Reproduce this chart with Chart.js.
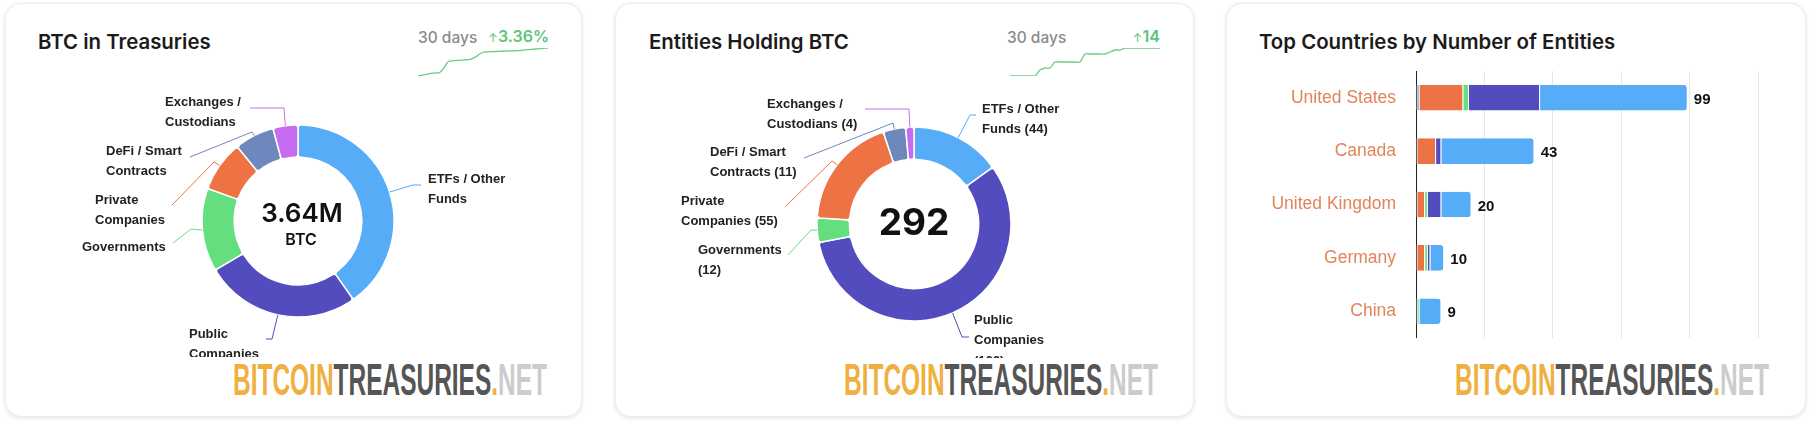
<!DOCTYPE html>
<html lang="en">
<head>
  <meta charset="utf-8">
  <title>Bitcoin Treasuries</title>
  <script src="https://cdn.jsdelivr.net/npm/chart.js@4"></script>
  <style>
    * { box-sizing:border-box; margin:0; padding:0 }
    html, body { width:1810px; height:423px; overflow:hidden; background:#fff; }
    body { position:relative; font-family:'Inter', sans-serif; color:#1b1b1b; }
    .card {
      position:absolute; top:3px; height:414px;
      background:#fff; border:1px solid #eeeeee; border-radius:16px;
      box-shadow:0 1px 4px rgba(0,0,0,0.12);
    }
    .title { position:absolute; top:30px; font-size:20.4px; font-weight:600; line-height:24px; white-space:nowrap; }
    .days { position:absolute; top:28px; font-size:15.5px; font-weight:500; color:#8a8a8a; line-height:20px; }
    .delta { position:absolute; top:26px; font-size:16px; font-weight:600; color:#5cc47a; line-height:20px; text-align:right; white-space:nowrap; }
    .delta span { font-size:12px; font-weight:400; }
    canvas { position:absolute; display:block; }
    svg.logo { position:absolute; top:358px; }
    svg.logo text { font-family:'Liberation Sans Narrow','Liberation Sans',sans-serif; font-weight:700; font-size:45px; }
  </style>
</head>
<body>
  <div class="card" style="left:5px;width:577px"></div>
  <div class="card" style="left:615px;width:579px"></div>
  <div class="card" style="left:1226px;width:580px"></div>

  <div class="title" style="left:38px">BTC in Treasuries</div>
  <div class="title" style="left:649px">Entities Holding BTC</div>
  <div class="title" style="left:1259px">Top Countries by Number of Entities</div>

  <div class="days" style="left:418px">30 days</div>
  <div class="delta" style="right:1261px"><span>↑</span>3.36%</div>
  <div class="days" style="left:1007px">30 days</div>
  <div class="delta" style="right:650px"><span>↑</span>14</div>

  <canvas id="spark1" style="left:416px;top:46px"></canvas>
  <canvas id="spark2" style="left:1008px;top:46px"></canvas>
  <canvas id="donut1" style="left:18px;top:85px"></canvas>
  <canvas id="donut2" style="left:634px;top:90px"></canvas>
  <canvas id="bars" style="left:1238px;top:71px"></canvas>

  <svg class="logo" style="left:233px" width="320" height="44"><text x="0" y="37" textLength="314" lengthAdjust="spacingAndGlyphs"><tspan fill="#efb041">BITCOIN</tspan><tspan fill="#555555">TREASURIES</tspan><tspan fill="#efb041">.</tspan><tspan fill="#cccccc">NET</tspan></text></svg>
  <svg class="logo" style="left:844px" width="320" height="44"><text x="0" y="37" textLength="314" lengthAdjust="spacingAndGlyphs"><tspan fill="#efb041">BITCOIN</tspan><tspan fill="#555555">TREASURIES</tspan><tspan fill="#efb041">.</tspan><tspan fill="#cccccc">NET</tspan></text></svg>
  <svg class="logo" style="left:1455px" width="320" height="44"><text x="0" y="37" textLength="314" lengthAdjust="spacingAndGlyphs"><tspan fill="#efb041">BITCOIN</tspan><tspan fill="#555555">TREASURIES</tspan><tspan fill="#efb041">.</tspan><tspan fill="#cccccc">NET</tspan></text></svg>

  <script>
    // colours per holder type
    const colETF = '#56acf7', colPublic = '#524cbf', colGov = '#65de80',
          colPrivate = '#ee7344', colDefi = '#6e87bc', colExch = '#c56cf0';
    const sliceColors = [colETF, colPublic, colGov, colPrivate, colDefi, colExch];

    // thousand BTC
    const btcHeld = [1465, 955, 510, 313, 244, 153];
    const entityCounts = [44, 166, 12, 55, 11, 4];

    const btcLabels = [['ETFs / Other', 'Funds'], ['Public', 'Companies'], ['Governments'],
      ['Private', 'Companies'], ['DeFi / Smart', 'Contracts'], ['Exchanges /', 'Custodians']];
    const entityLabels = [['ETFs / Other', 'Funds (44)'], ['Public', 'Companies', '(166)'], ['Governments', '(12)'],
      ['Private', 'Companies (55)'], ['DeFi / Smart', 'Contracts (11)'], ['Exchanges /', 'Custodians (4)']];

    // 30 day sparklines
    const btcChange30d = [0, 0.1, 0.2, 0.32, 0.36, 0.42, 1.0, 1.75, 1.82, 1.87, 1.9, 1.95, 2.0, 2.2, 2.55,
      2.85, 2.9, 2.92, 2.94, 2.96, 2.98, 3.0, 3.02, 3.04, 3.08, 3.14, 3.2, 3.24, 3.28, 3.32, 3.36];
    const entities30d = [278, 278, 278, 278, 278, 278, 281, 282, 282, 285, 285, 285, 285, 285, 285,
      289, 289, 289, 289, 289, 290, 291, 291, 292, 292, 292, 292, 292, 292, 292, 292];

    // countries, stacked by holder type
    const countries = ['United States', 'Canada', 'United Kingdom', 'Germany', 'China'];
    const countryTotals = [99, 43, 20, 10, 9];
    const defiByCountry = [1, 0, 0, 0, 0];
    const privateByCountry = [16, 7, 3, 3, 0];
    const govByCountry = [2, 0, 1, 1, 1];
    const publicByCountry = [26, 2, 5, 1, 0];
    const etfByCountry = [54, 34, 11, 5, 8];

    // where the outside labels sit on the page: text x, first line y, elbow, line end
    const btcSpots = [
      [428, 179, 413, 185, 421, 185], [189, 334, 272, 339, 266, 339], [82, 247, 191, 229, 173, 243],
      [95, 200, 214, 162, 172, 205], [106, 151, 252, 132, 190, 157], [165, 102, 284, 108, 250, 108]
    ];
    const entitySpots = [
      [982, 109, 970, 115, 976, 115], [974, 320, 962, 337, 969, 337], [698, 250, 811, 230, 788, 255],
      [681, 201, 832, 161, 786, 206], [710, 152, 893, 123, 804, 158], [767, 104, 909, 109, 865, 109]
    ];

    Chart.defaults.font.family = "'Liberation Sans', sans-serif";

    function spark(id, values, w) {
      const el = document.getElementById(id);
      el.width = w; el.height = 32;
      new Chart(el, {
        type: 'line',
        data: {
          labels: values.map((_, i) => i),
          datasets: [{ data: values, borderColor: '#6bcb85', borderWidth: 1.3, pointRadius: 0, tension: 0.25 }]
        },
        options: {
          responsive: false, animation: false,
          layout: { padding: 2 },
          plugins: { legend: { display: false }, tooltip: { enabled: false } },
          scales: { x: { display: false }, y: { display: false, min: values[0], max: values[values.length - 1] } }
        }
      });
    }

    // leader lines, outside labels and the text in the hole
    function ringLabels(texts, spots, centerLines) {
      return {
        id: 'ringLabels',
        afterDatasetsDraw(chart) {
          const ctx = chart.ctx;
          const left = chart.canvas.offsetLeft, top = chart.canvas.offsetTop;
          const arcs = chart.getDatasetMeta(0).data;
          ctx.save();
          arcs.forEach((arc, i) => {
            const s = spots[i];
            const mid = (arc.startAngle + arc.endAngle) / 2;
            ctx.strokeStyle = sliceColors[i];
            ctx.lineWidth = 1;
            ctx.beginPath();
            ctx.moveTo(arc.x + Math.cos(mid) * arc.outerRadius, arc.y + Math.sin(mid) * arc.outerRadius);
            ctx.lineTo(s[2] - left, s[3] - top);
            ctx.lineTo(s[4] - left, s[5] - top);
            ctx.stroke();

            ctx.fillStyle = '#222';
            ctx.font = "bold 13px 'Liberation Sans'";
            ctx.textAlign = 'left';
            ctx.textBaseline = 'middle';
            texts[i].forEach((line, n) => ctx.fillText(line, s[0] - left, s[1] - top + n * 20.5));
          });
          ctx.fillStyle = '#111';
          ctx.textAlign = 'center';
          centerLines.forEach(c => {
            ctx.font = c.font;
            ctx.fillText(c.text, arcs[0].x + c.dx, arcs[0].y + c.dy);
          });
          ctx.restore();
        }
      };
    }

    function donut(id, values, w, h, radius, texts, spots, centerLines) {
      const el = document.getElementById(id);
      el.width = w; el.height = h;
      new Chart(el, {
        type: 'doughnut',
        data: {
          labels: texts.map(t => t.join(' ')),
          datasets: [{ data: values, backgroundColor: sliceColors, borderColor: '#fff', borderWidth: 1.5, borderRadius: 3 }]
        },
        options: {
          responsive: false, animation: false,
          radius: radius, cutout: '66.5%',
          plugins: { legend: { display: false }, tooltip: { enabled: false } }
        },
        plugins: [ringLabels(texts, spots, centerLines)]
      });
    }

    spark('spark1', btcChange30d, 134);
    spark('spark2', entities30d, 154);

    donut('donut1', btcHeld, 560, 272, 96, btcLabels, btcSpots, [
      { text: '3.64M', font: "600 26px Inter", dx: 4, dy: -7 },
      { text: 'BTC', font: "600 16px Inter", dx: 3, dy: 19 }
    ]);
    donut('donut2', entityCounts, 560, 268, 97, entityLabels, entitySpots, [
      { text: '292', font: "700 37px Inter", dx: 0, dy: 0 }
    ]);

    // total at the end of every stack
    const totalsPlugin = {
      id: 'totals',
      afterDatasetsDraw(chart) {
        const ctx = chart.ctx;
        const last = chart.getDatasetMeta(chart.data.datasets.length - 1).data;
        ctx.save();
        ctx.fillStyle = '#111';
        ctx.font = "bold 15px 'Liberation Sans'";
        ctx.textBaseline = 'middle';
        last.forEach((bar, i) => ctx.fillText(countryTotals[i], bar.x + 7, bar.y + 2));
        ctx.restore();
      }
    };

    function stack(values, color, radius) {
      return { data: values, backgroundColor: color, borderColor: '#fff', borderWidth: { left: 1, right: 0 }, borderSkipped: false,
        borderRadius: radius, barPercentage: 0.48, categoryPercentage: 1 };
    }

    const barsEl = document.getElementById('bars');
    barsEl.width = 540; barsEl.height = 267;
    new Chart(barsEl, {
      type: 'bar',
      data: {
        labels: countries,
        datasets: [
          stack(defiByCountry, colDefi, 0),
          stack(privateByCountry, colPrivate, 0),
          stack(govByCountry, colGov, 0),
          stack(publicByCountry, colPublic, 0),
          stack(etfByCountry, colETF, { topRight: 3, bottomRight: 3 })
        ]
      },
      options: {
        indexAxis: 'y', responsive: false, animation: false,
        layout: { padding: { right: 20 } },
        plugins: { legend: { display: false }, tooltip: { enabled: false } },
        scales: {
          x: {
            stacked: true, min: 0, max: 125,
            ticks: { display: false, stepSize: 25 },
            grid: { color: '#e6e6e6', drawTicks: false },
            border: { display: false }
          },
          y: {
            stacked: true,
            afterFit(scale) { scale.width = 178; scale.paddingTop = 0; scale.paddingBottom = 0; },
            ticks: { color: '#e2845a', font: { size: 17.5 }, padding: 20 },
            grid: { display: false, drawTicks: false },
            border: { display: true, color: '#222', width: 1 }
          }
        }
      },
      plugins: [totalsPlugin]
    });
  </script>
</body>
</html>
